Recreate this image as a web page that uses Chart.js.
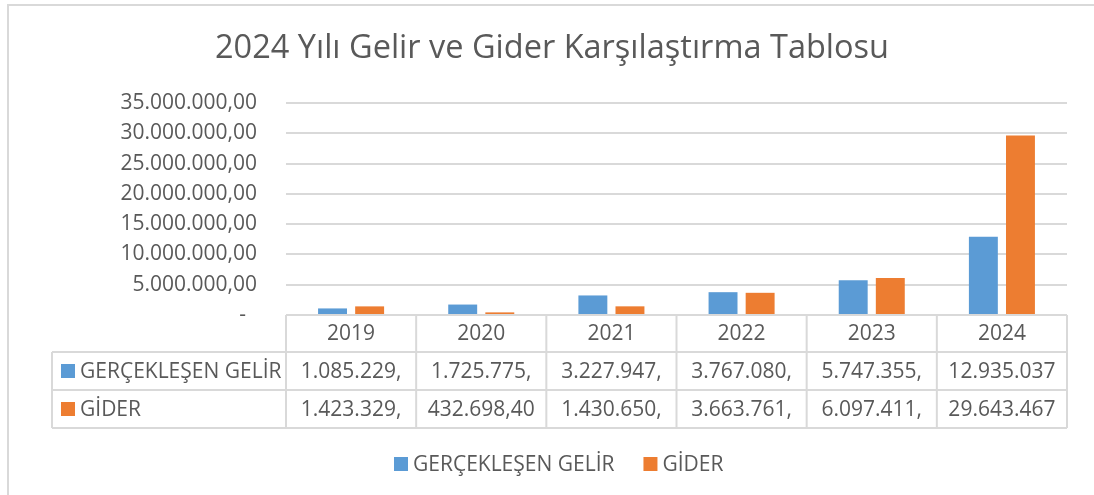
<!DOCTYPE html>
<html lang="tr">
<head>
    <meta charset="UTF-8">
    <title>2024 Yılı Gelir ve Gider Karşılaştırma Tablosu</title>
    <style>
        body {
            margin: 0;
            background: #fff;
        }

        #chart-container {
            width: 1094px;
            height: 495px;
        }
    </style>
</head>
<body>
    <div id="chart-container">
        <canvas id="gelir-gider-chart"></canvas>
    </div>

    <script src="https://cdn.jsdelivr.net/npm/chart.js"></script>
    <script>
        const years = ['2019', '2020', '2021', '2022', '2023', '2024'];
        const seriesNames = ['GERÇEKLEŞEN GELİR', 'GİDER'];
        const gelir = [1085229, 1725775, 3227947, 3767080, 5747355, 12935037];
        const gider = [1423329, 432698.40, 1430650, 3663761, 6097411, 29643467];
        const yTicks = [0, 5000000, 10000000, 15000000, 20000000, 25000000, 30000000, 35000000];

        const textColor = '#595959';
        const lineColor = '#d9d9d9';
        const colors = ['#5B9BD5', '#ED7D31'];
        const fontFamily = '"Open Sans", sans-serif';

        // Turkish number format: 1.234.567,89
        function formatTr(value) {
            const parts = value.toFixed(2).split('.');
            return parts[0].replace(/\B(?=(\d{3})+(?!\d))/g, '.') + ',' + parts[1];
        }

        // Excel cuts the cell text when it does not fit
        function fitText(ctx, text, maxWidth) {
            let t = text;
            while (t.length > 1 && ctx.measureText(t).width > maxWidth) {
                t = t.slice(0, -1);
            }
            return t;
        }

        const frame = {
            id: 'frame',
            beforeDraw(chart) {
                const ctx = chart.ctx;
                ctx.save();
                ctx.fillStyle = '#fff';
                ctx.fillRect(0, 0, chart.width, chart.height);
                ctx.strokeStyle = lineColor;
                ctx.lineWidth = 2;
                ctx.strokeRect(8, 5, chart.width + 50, chart.height + 50);
                ctx.restore();
            }
        };

        // data table under the plot, Excel style
        const dataTable = {
            id: 'dataTable',
            afterDraw(chart) {
                const ctx = chart.ctx;
                const area = chart.chartArea;
                const colW = (area.right - area.left) / years.length;
                const top = area.bottom;
                const rowH = [37, 38, 38];
                const y1 = top + rowH[0];
                const y2 = y1 + rowH[1];
                const y3 = y2 + rowH[2];
                const labelLeft = 52;
                const rows = [gelir, gider];

                ctx.save();
                ctx.strokeStyle = lineColor;
                ctx.lineWidth = 2;
                ctx.beginPath();
                ctx.moveTo(area.left, top);
                ctx.lineTo(area.right, top);
                [y1, y2, y3].forEach(y => {
                    ctx.moveTo(labelLeft, y);
                    ctx.lineTo(area.right, y);
                });
                for (let i = 0; i <= years.length; i++) {
                    const x = area.left + i * colW;
                    ctx.moveTo(x, top);
                    ctx.lineTo(x, y3);
                }
                ctx.moveTo(labelLeft, y1);
                ctx.lineTo(labelLeft, y3);
                ctx.stroke();

                ctx.font = '21px ' + fontFamily;
                ctx.fillStyle = textColor;
                ctx.textBaseline = 'middle';
                ctx.textAlign = 'center';
                years.forEach((year, i) => {
                    ctx.fillText(year, area.left + (i + 0.5) * colW, (top + y1) / 2 + 1);
                });

                const rowMid = [(y1 + y2) / 2 + 1, (y2 + y3) / 2 + 1];
                rows.forEach((values, r) => {
                    values.forEach((v, i) => {
                        const t = fitText(ctx, formatTr(v), colW - 20);
                        ctx.fillText(t, area.left + (i + 0.5) * colW, rowMid[r]);
                    });
                });

                ctx.textAlign = 'left';
                seriesNames.forEach((name, r) => {
                    ctx.fillStyle = colors[r];
                    ctx.fillRect(61, rowMid[r] - 8, 14, 14);
                    ctx.fillStyle = textColor;
                    ctx.fillText(name, 80, rowMid[r]);
                });

                // legend
                const legendY = 465;
                let x = 394;
                seriesNames.forEach((name, r) => {
                    ctx.fillStyle = colors[r];
                    ctx.fillRect(x, legendY - 8, 14, 14);
                    ctx.fillStyle = textColor;
                    ctx.fillText(name, x + 19, legendY);
                    x += 19 + ctx.measureText(name).width + 29;
                });
                ctx.restore();
            }
        };

        const ctx = document.getElementById('gelir-gider-chart').getContext('2d');
        new Chart(ctx, {
            type: 'bar',
            data: {
                labels: years,
                datasets: [
                    { label: seriesNames[0], data: gelir, backgroundColor: colors[0] },
                    { label: seriesNames[1], data: gider, backgroundColor: colors[1] }
                ]
            },
            options: {
                responsive: true,
                maintainAspectRatio: false,
                animation: false,
                layout: {
                    padding: { left: 37, right: 27, top: 0, bottom: 50 }
                },
                datasets: {
                    bar: { categoryPercentage: 0.57, barPercentage: 0.78 }
                },
                plugins: {
                    legend: { display: false },
                    tooltip: { enabled: false },
                    title: {
                        display: true,
                        text: '2024 Yılı Gelir ve Gider Karşılaştırma Tablosu',
                        color: textColor,
                        font: { family: fontFamily, size: 32.5, weight: 'normal' },
                        padding: { top: 29, bottom: 35 }
                    }
                },
                scales: {
                    x: {
                        ticks: { display: false },
                        grid: { display: false },
                        border: { display: false },
                        afterFit(axis) { axis.height = 130; }
                    },
                    y: {
                        min: 0,
                        max: 35000000,
                        afterBuildTicks(axis) {
                            axis.ticks = yTicks.map(v => ({ value: v }));
                        },
                        afterFit(axis) { axis.width = 249; },
                        ticks: {
                            color: textColor,
                            font: { family: fontFamily, size: 21 },
                            padding: 29,
                            callback: v => v === 0 ? '-  ' : formatTr(v)
                        },
                        grid: { color: lineColor, lineWidth: 2, drawTicks: false },
                        border: { display: false }
                    }
                }
            },
            plugins: [frame, dataTable]
        });
    </script>
</body>
</html>
